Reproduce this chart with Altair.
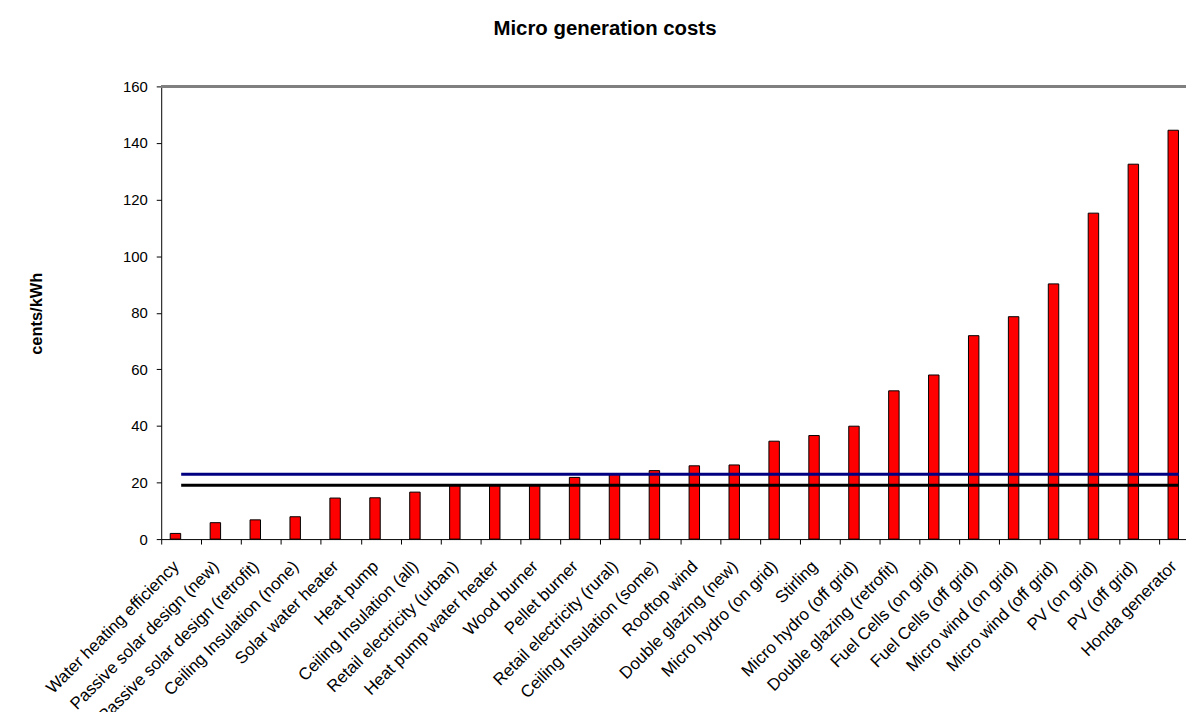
import altair as alt
import pandas as pd

categories = [
    "Water heating efficiency", "Passive solar design (new)", "Passive solar design (retrofit)",
    "Ceiling Insulation (none)", "Solar water heater", "Heat pump", "Ceiling Insulation (all)",
    "Retail electricity (urban)", "Heat pump water heater", "Wood burner", "Pellet burner",
    "Retail electricity (rural)", "Ceiling Insulation (some)", "Rooftop wind", "Double glazing (new)",
    "Micro hydro (on grid)", "Stirling", "Micro hydro (off grid)", "Double glazing (retrofit)",
    "Fuel Cells (on grid)", "Fuel Cells (off grid)", "Micro wind (on grid)", "Micro wind (off grid)",
    "PV (on grid)", "PV (off grid)", "Honda generator",
]
costs = [2.0, 5.8, 6.8, 7.9, 14.5, 14.6, 16.6, 19.0, 19.0, 19.0, 21.8, 22.9, 24.2, 25.9, 26.2,
         34.6, 36.6, 39.9, 52.4, 58.0, 71.9, 78.6, 90.2, 115.2, 132.5, 144.5]
rural_line = 22.9
urban_line = 19.0
y_ticks = [0, 20, 40, 60, 80, 100, 120, 140, 160]

df = pd.DataFrame({"cat": categories, "cost": costs})

FONT = "Liberation Sans"
band_range = [0, 1043]

x_enc = alt.X(
    "cat:N", sort=None, title=None,
    scale=alt.Scale(range=band_range, paddingInner=0, paddingOuter=0),
    axis=alt.Axis(
        labelAngle=-45, labelAlign="right", labelBaseline="top",
        labelFont=FONT, labelFontSize=17, labelColor="black",
        labelPadding=14, labelOffset=-11, labelLimit=400,
        tickBand="extent", tickSize=5, tickColor="black",
        domainColor="black", grid=False, labelOverlap=False,
    ),
)
y_scale = alt.Scale(domain=[0, 160], nice=False)
y_enc = alt.Y(
    "cost:Q", scale=y_scale, title="cents/kWh",
    axis=alt.Axis(
        values=y_ticks, grid=False, tickSize=5, tickColor="black", domainColor="black",
        labelFont=FONT, labelFontSize=15, labelColor="black", labelPadding=9,
        titleFont=FONT, titleFontSize=16.5, titleFontWeight="bold", titleColor="black",
        titleX=-125, titleY=228, titleAngle=270, titleAlign="center", titleBaseline="middle",
    ),
)

bars = alt.Chart(df).mark_bar(
    size=10.5, xOffset=-5.75, color="#FF0000", stroke="black", strokeWidth=1
).encode(x=x_enc, y=y_enc)

line_rural = alt.Chart(df).mark_line(color="#000080", strokeWidth=3).encode(
    x=alt.X("cat:N", sort=None), y=alt.datum(rural_line)
)
line_urban = alt.Chart(df).mark_line(color="black", strokeWidth=3).encode(
    x=alt.X("cat:N", sort=None), y=alt.datum(urban_line)
)
top_rule = alt.Chart(df).mark_rule(color="#808080", strokeWidth=1.5).encode(
    y=alt.datum(160), x=alt.value(0), x2=alt.value(1100)
)

chart = alt.layer(top_rule, bars, line_urban, line_rural).properties(
    width=1030, height=455,
    title=alt.TitleParams(
        "Micro generation costs", font=FONT, fontSize=20.5, fontWeight="bold", color="black",
        anchor="middle", dx=-69, offset=24, baseline="alphabetic",
    ),
    padding={"left": 154, "top": 77, "right": 0, "bottom": 172},
    autosize=alt.AutoSizeParams(type="none"),
).configure_view(stroke=None)

chart.save("out.html", embed_options={"renderer": "svg", "actions": False})
